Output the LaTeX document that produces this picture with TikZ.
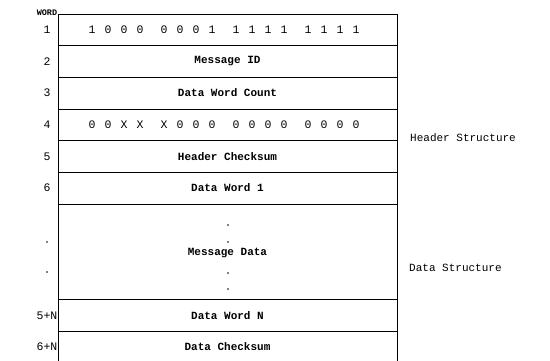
\documentclass[tikz,border=0pt]{standalone}
\usepackage{fontspec}
\setmonofont{Liberation Mono}
\newcommand{\dg}[1]{\makebox[16pt]{#1}}
\newcommand{\grp}[4]{\dg{#1}\dg{#2}\dg{#3}\dg{#4}}
\newcommand{\gsep}{\hspace{8pt}}
\tikzset{
  boxline/.style={line width=0.8pt, black},
  intext/.style={font=\ttfamily\bfseries\fontsize{11}{12}\selectfont, inner sep=0pt, anchor=center},
  bits/.style={font=\ttfamily\fontsize{11.5}{12}\selectfont, inner sep=0pt, anchor=center},
  wnum/.style={font=\ttfamily\fontsize{11.5}{12}\selectfont, inner sep=0pt, anchor=center},
  side/.style={font=\ttfamily\fontsize{11}{12}\selectfont, inner sep=0pt, anchor=west},
  dotmark/.style={circle, fill=black, inner sep=0pt, minimum size=1.8pt}
}
\begin{document}
\begin{tikzpicture}[x=1pt,y=-1pt]
\useasboundingbox (0,0) rectangle (550,361);
\def\L{58}
\def\R{397}
% outer frame
\coordinate (tl) at (\L,14);
\coordinate (tr) at (\R,14);
\coordinate (bl) at (\L,361);
\coordinate (br) at (\R,361);
\draw[boxline] (bl) -- (tl) -- (tr) -- (br);
% row separators
\foreach \y [count=\i] in {45.7,77.4,109.1,140.8,172.5,204.2,299.3,331}{
  \coordinate (sl\i) at (\L,\y);
  \coordinate (sr\i) at (\R,\y);
  \draw[boxline] (sl\i) -- (sr\i);
}
% header label
\node[font=\ttfamily\bfseries\fontsize{8.5}{9}\selectfont, inner sep=0pt] (wordlbl) at (47,13) {WORD};
% word numbers
\node[wnum] (n1) at (47,30) {1};
\node[wnum] (n2) at (47,61.5) {2};
\node[wnum] (n3) at (47,93) {3};
\node[wnum] (n4) at (47,125) {4};
\node[wnum] (n5) at (47,156.5) {5};
\node[wnum] (n6) at (47,188) {6};
\node[dotmark] (nd1) at (47,242) {};
\node[dotmark] (nd2) at (47,272) {};
\node[wnum] (n5n) at (47,315.5) {5+N};
\node[wnum] (n6n) at (47,347) {6+N};
% row contents
\node[bits] (r1) at (224,30) {\grp1000\gsep\grp0001\gsep\grp1111\gsep\grp1111};
\node[intext] (r2) at (227.5,61.5) {Message ID};
\node[intext] (r3) at (227.5,93) {Data Word Count};
\node[bits] (r4) at (224,125) {\grp00XX\gsep\grp X000\gsep\grp0000\gsep\grp0000};
\node[intext] (r5) at (227.5,156.5) {Header Checksum};
\node[intext] (r6) at (227.5,188) {Data Word 1};
\node[intext] (r7) at (227.5,253) {Message Data};
\node[dotmark] (d1) at (228,225) {};
\node[dotmark] (d2) at (228,242) {};
\node[dotmark] (d3) at (228,273) {};
\node[dotmark] (d4) at (228,289) {};
\node[intext] (r8) at (227.5,315.5) {Data Word N};
\node[intext] (r9) at (227.5,347) {Data Checksum};
% side labels
\node[side] (hs) at (410,138) {Header Structure};
\node[side] (ds) at (409,268) {Data Structure};
\end{tikzpicture}
\end{document}
